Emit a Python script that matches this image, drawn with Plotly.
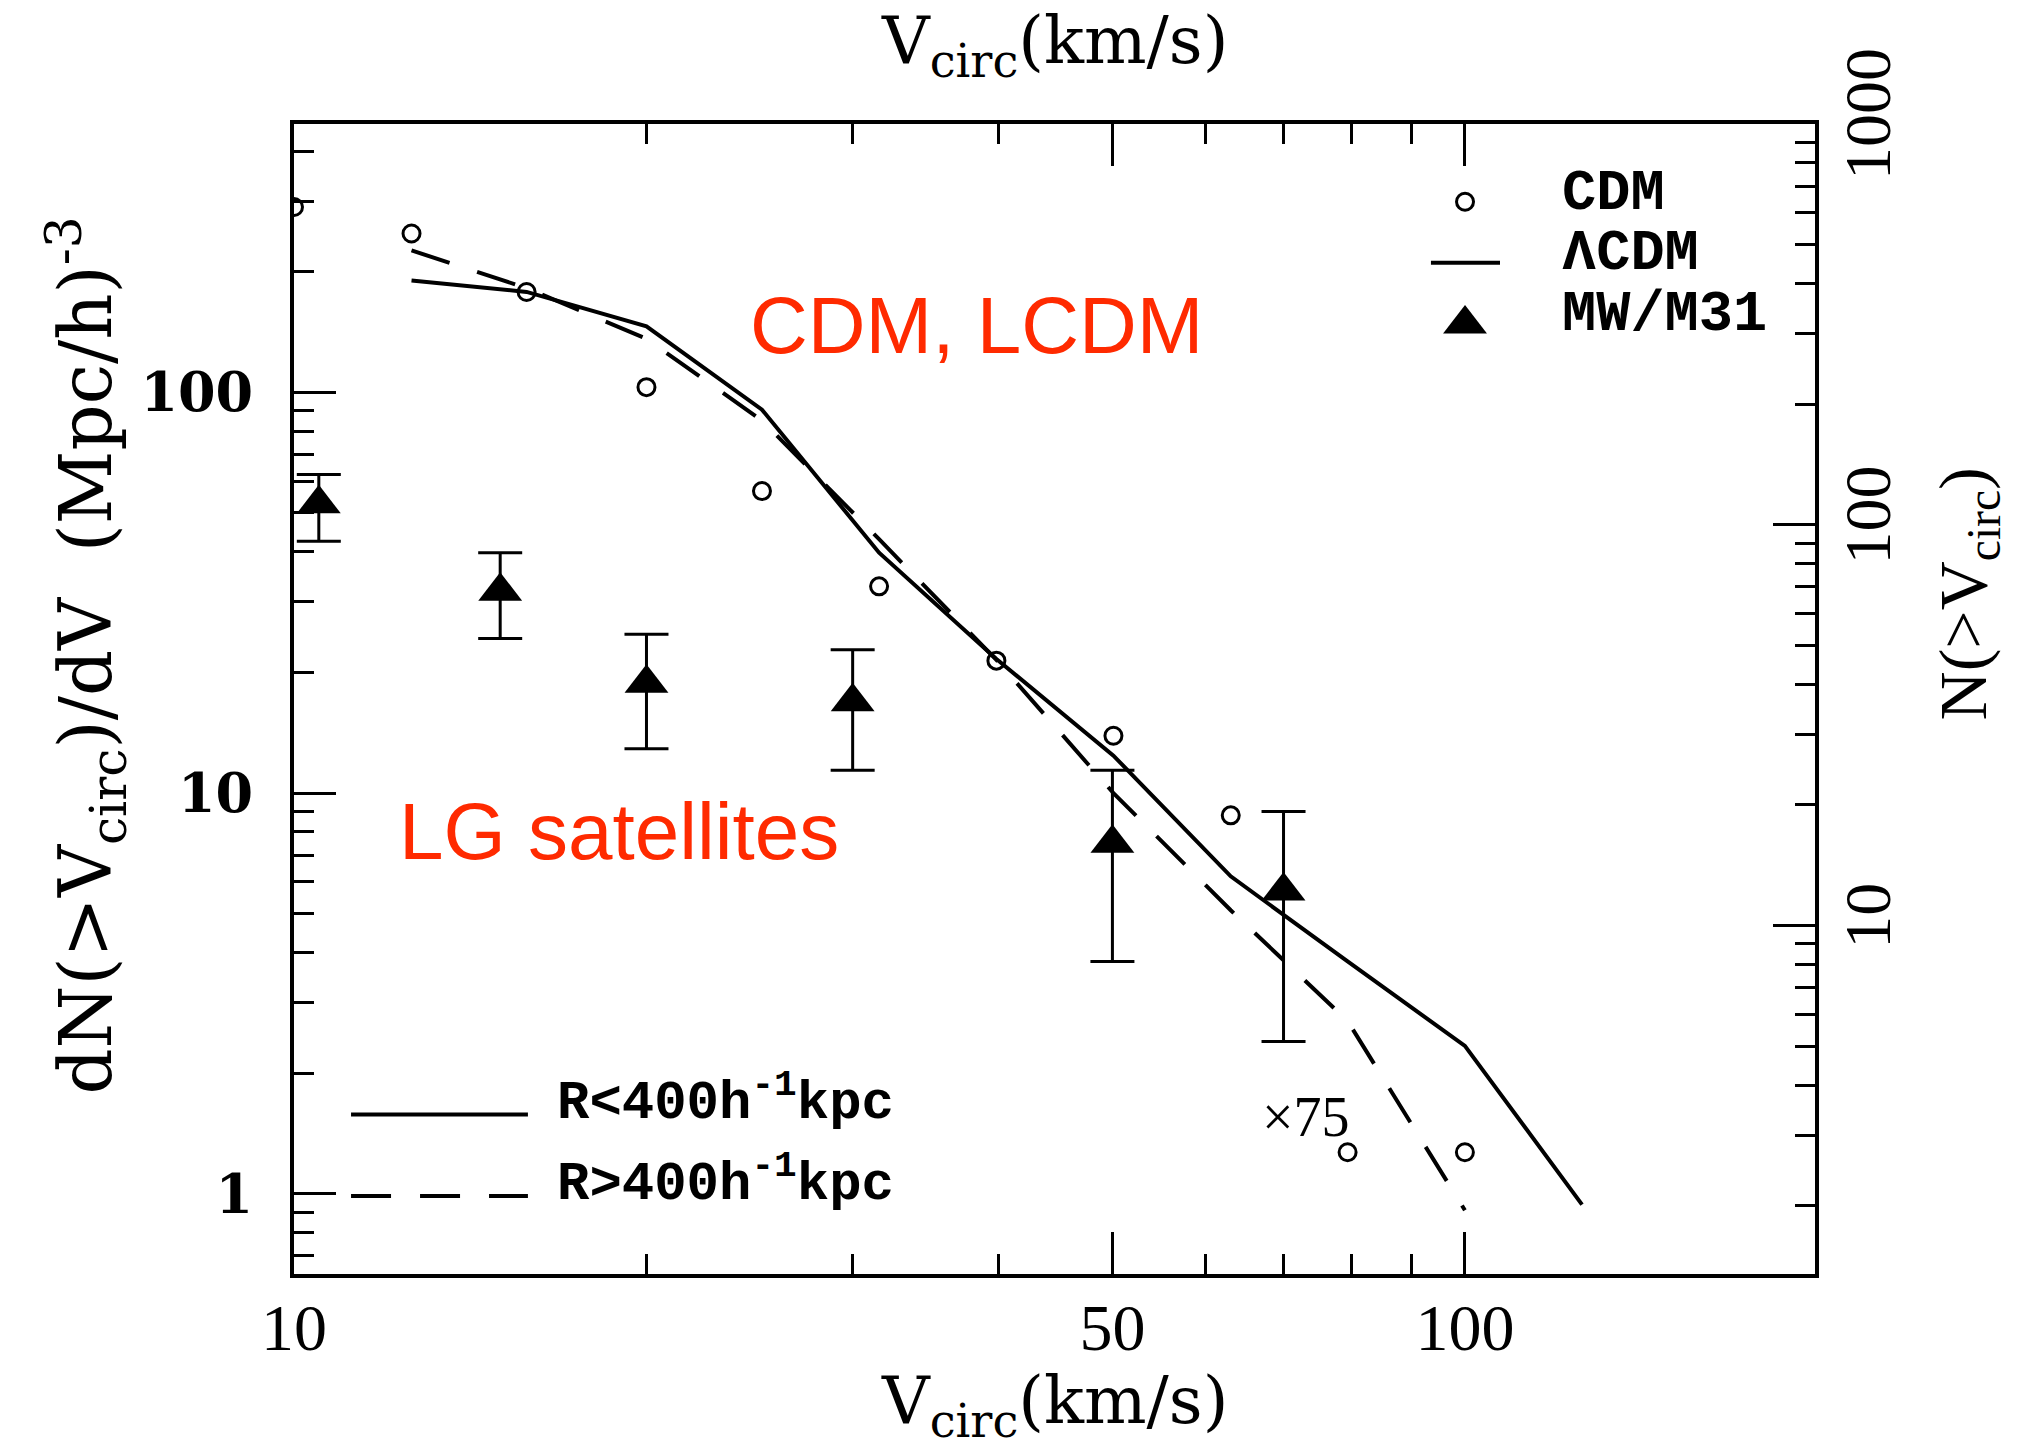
import plotly.graph_objects as go

# ---- data: circular-velocity functions (km/s vs. dN(>Vcirc)/dV) ----
# CDM halo counts (open circles)
v_cdm = [10.0, 12.6, 15.8, 20.0, 25.1, 31.6, 39.8, 50.1, 63.1, 79.4, 100.0]
n_cdm = [290, 249, 178, 103, 56.7, 32.8, 21.4, 13.9, 8.8, 1.27, 1.27]

# LCDM, R < 400 h^-1 kpc (solid)
v_inner = [12.6, 15.8, 20.0, 25.1, 31.6, 39.8, 50.1, 63.1, 79.4, 100.0, 125.9]
n_inner = [190, 178, 146, 90.5, 39.8, 21.6, 12.4, 6.2, 3.8, 2.34, 0.94]

# LCDM, R > 400 h^-1 kpc (dashed)
v_outer = [12.6, 15.8, 20.0, 25.1, 31.6, 39.8, 50.1, 63.1, 79.4, 100.0]
n_outer = [226, 182, 136, 85.0, 43.0, 21.5, 10.0, 5.1, 2.7, 0.91]

# Local Group satellites (MW/M31) with error bars
v_obs = [10.5, 15.0, 20.0, 30.0, 50.0, 70.0]
n_obs = [52.7, 31.9, 18.8, 16.9, 7.5, 5.7]
n_obs_hi = [62.4, 39.8, 24.9, 22.8, 11.4, 9.0]
n_obs_lo = [42.5, 24.3, 12.9, 11.4, 3.8, 2.4]

# ---- axis ticks ----
x_major = [10, 50, 100]
x_major_text = ["10", "50", "100"]
x_minor = [20, 30, 40, 60, 70, 80, 90]

y_major = [1, 10, 100]
y_major_text = ["1", "10", "100"]
y_minor = [0.7, 0.8, 0.9, 2, 3, 4, 5, 6, 7, 8, 9,
           20, 30, 40, 50, 60, 70, 80, 90, 200, 300, 400]

y2_major = [10, 100, 1000]
y2_major_text = ["10", "100", "1000"]
y2_minor = [2, 3, 4, 5, 6, 7, 8, 9, 20, 30, 40, 50, 60, 70, 80, 90,
            200, 300, 400, 500, 600, 700, 800, 900]

# ---- styling ----
W, H = 2018, 1455
M_L, M_R, M_T, M_B = 294, 203, 124, 181
X_RANGE = [1.0, 2.299]
Y_RANGE = [-0.2, 2.6695]
Y2_RANGE = [Y_RANGE[0] + 0.3305, Y_RANGE[1] + 0.3305]
RED = "#ff2a00"
SERIF = "Liberation Serif"
TITLE_SERIF = "DejaVu Serif"
MONO = "Liberation Mono"
LW = 4

fig = go.Figure()

fig.add_trace(go.Scatter(
    x=v_inner, y=n_inner, mode="lines",
    line=dict(color="black", width=LW), hoverinfo="skip", showlegend=False))
fig.add_trace(go.Scatter(
    x=v_outer, y=n_outer, mode="lines",
    line=dict(color="black", width=LW, dash="40px,29px"),
    hoverinfo="skip", showlegend=False))
fig.add_trace(go.Scatter(
    x=v_cdm, y=n_cdm, mode="markers",
    marker=dict(symbol="circle-open", size=17, color="black",
                line=dict(width=3, color="black")),
    hoverinfo="skip", showlegend=False))
fig.add_trace(go.Scatter(
    x=v_obs, y=n_obs, mode="markers",
    marker=dict(symbol="triangle-up", size=38, color="black"),
    error_y=dict(type="data", symmetric=False,
                 array=[h - y for h, y in zip(n_obs_hi, n_obs)],
                 arrayminus=[y - l for y, l in zip(n_obs, n_obs_lo)],
                 thickness=3, width=22, color="black"),
    hoverinfo="skip", showlegend=False))

# placeholder trace so the top and right axes are drawn
fig.add_trace(go.Scatter(x=[None], y=[None], xaxis="x2", yaxis="y2",
                         showlegend=False, hoverinfo="skip"))

# legend keys (top right) on a hidden unit-square overlay
KEY_X = 0.7699
KEY_Y = [0.9324, 0.8794, 0.8261]
KEY_LINE = [0.7475, 0.7929]
fig.add_trace(go.Scatter(
    x=[KEY_X], y=[KEY_Y[0]], xaxis="x3", yaxis="y3", mode="markers",
    marker=dict(symbol="circle-open", size=17, color="black",
                line=dict(width=3, color="black")),
    showlegend=False, hoverinfo="skip"))
fig.add_trace(go.Scatter(
    x=KEY_LINE, y=[KEY_Y[1], KEY_Y[1]], xaxis="x3", yaxis="y3", mode="lines",
    line=dict(color="black", width=LW), showlegend=False, hoverinfo="skip"))
fig.add_trace(go.Scatter(
    x=[KEY_X], y=[KEY_Y[2]], xaxis="x3", yaxis="y3", mode="markers",
    marker=dict(symbol="triangle-up", size=38, color="black"),
    showlegend=False, hoverinfo="skip"))

# legend keys (bottom left)
LOW_LINE = [0.0375, 0.1538]
LOW_Y = [0.1387, 0.0678]
fig.add_trace(go.Scatter(
    x=LOW_LINE, y=[LOW_Y[0], LOW_Y[0]], xaxis="x3", yaxis="y3", mode="lines",
    line=dict(color="black", width=LW), showlegend=False, hoverinfo="skip"))
fig.add_trace(go.Scatter(
    x=LOW_LINE, y=[LOW_Y[1], LOW_Y[1]], xaxis="x3", yaxis="y3", mode="lines",
    line=dict(color="black", width=LW, dash="40px,29px"),
    showlegend=False, hoverinfo="skip"))

common_x = dict(type="log", range=X_RANGE, showgrid=False, zeroline=False,
                showline=True, linecolor="black", linewidth=LW,
                ticks="inside", ticklen=42, tickwidth=3, tickcolor="black",
                tickmode="array", tickvals=x_major, ticktext=x_major_text,
                minor=dict(tickmode="array", tickvals=x_minor, ticks="inside",
                           ticklen=20, tickwidth=3, tickcolor="black",
                           showgrid=False),
                automargin=False)

fig.update_layout(
    width=W, height=H,
    margin=dict(l=M_L, r=M_R, t=M_T, b=M_B, pad=0),
    paper_bgcolor="white", plot_bgcolor="white",
    showlegend=False,
    xaxis=dict(**common_x, side="bottom",
               tickfont=dict(family=SERIF, size=66, color="black"),
               ticklabelstandoff=-7),
    xaxis2=dict(**common_x, side="top", overlaying="x", anchor="y2",
                showticklabels=False),
    yaxis=dict(type="log", range=Y_RANGE, showgrid=False, zeroline=False,
               showline=True, linecolor="black", linewidth=LW,
               ticks="inside", ticklen=42, tickwidth=3, tickcolor="black",
               tickmode="array", tickvals=y_major, ticktext=y_major_text,
               minor=dict(tickmode="array", tickvals=y_minor, ticks="inside",
                          ticklen=20, tickwidth=3, tickcolor="black",
                          showgrid=False),
               tickfont=dict(family="DejaVu Serif", size=54, color="black",
                             weight="bold"),
               ticklabelstandoff=26, automargin=False),
    yaxis2=dict(type="log", range=Y2_RANGE, overlaying="y", side="right",
                anchor="x2", showgrid=False, zeroline=False,
                showline=True, linecolor="black", linewidth=LW,
                ticks="inside", ticklen=42, tickwidth=3, tickcolor="black",
                tickmode="array", tickvals=y2_major, ticktext=y2_major_text,
                minor=dict(tickmode="array", tickvals=y2_minor, ticks="inside",
                           ticklen=20, tickwidth=3, tickcolor="black",
                           showgrid=False),
                tickangle=-90,
                tickfont=dict(family=SERIF, size=66, color="black"),
                ticklabelstandoff=-8, automargin=False),
    xaxis3=dict(overlaying="x", range=[0, 1], visible=False, anchor="y3"),
    yaxis3=dict(overlaying="y", range=[0, 1], visible=False, anchor="x3"),
)

ann = []
title_font = dict(family=TITLE_SERIF, size=66, color="black")
ann.append(dict(text="V<sub>circ</sub>(km/s)", x=0.5, y=-0.1139,
                xref="paper", yref="paper", xanchor="center", yanchor="middle",
                showarrow=False, font=title_font))
ann.append(dict(text="V<sub>circ</sub>(km/s)", x=0.5, y=1.0687,
                xref="paper", yref="paper", xanchor="center", yanchor="middle",
                showarrow=False, font=title_font))
ann.append(dict(text="dN(&gt;V<sub>circ</sub>)/dV&nbsp;&nbsp;(Mpc/h)<sup>-3</sup>",
                x=-0.137, y=0.5374, xref="paper", yref="paper",
                xanchor="center", yanchor="middle", textangle=-90,
                showarrow=False,
                font=dict(family=TITLE_SERIF, size=72, color="black")))
ann.append(dict(text="N(&gt;V<sub>circ</sub>)", x=1.1, y=0.591,
                xref="paper", yref="paper", xanchor="center", yanchor="middle",
                textangle=-90, showarrow=False,
                font=dict(family=SERIF, size=68, color="black")))

# legend labels
key_font = dict(family=MONO, size=57, color="black", weight="bold")
for txt, yy in zip(["CDM", "\u039bCDM", "MW/M31"], [0.9391, 0.887, 0.834]):
    ann.append(dict(text=txt, x=0.8323, y=yy, xref="paper", yref="paper",
                    xanchor="left", yanchor="middle", showarrow=False,
                    font=key_font))
low_font = dict(family=MONO, size=54, color="black", weight="bold")
for txt, yy in zip(["R&lt;400h<sup>-1</sup>kpc", "R&gt;400h<sup>-1</sup>kpc"],
                   [0.1522, 0.0817]):
    ann.append(dict(text=txt, x=0.1713, y=yy, xref="paper", yref="paper",
                    xanchor="left", yanchor="middle", showarrow=False,
                    font=low_font))

ann.append(dict(text="\u00d775", x=0.6654, y=0.1365, xref="paper", yref="paper",
                xanchor="center", yanchor="middle", showarrow=False,
                font=dict(family=SERIF, size=56, color="black")))

red_font = dict(family="Liberation Sans", size=80, color=RED)
ann.append(dict(text="CDM, LCDM", x=0.4484, y=0.8252, xref="paper",
                yref="paper", xanchor="center", yanchor="middle",
                showarrow=False, font=red_font))
ann.append(dict(text="LG satellites", x=0.2137, y=0.3852, xref="paper",
                yref="paper", xanchor="center", yanchor="middle",
                showarrow=False, font=red_font))

fig.update_layout(annotations=ann)

fig.write_html("out.html")
